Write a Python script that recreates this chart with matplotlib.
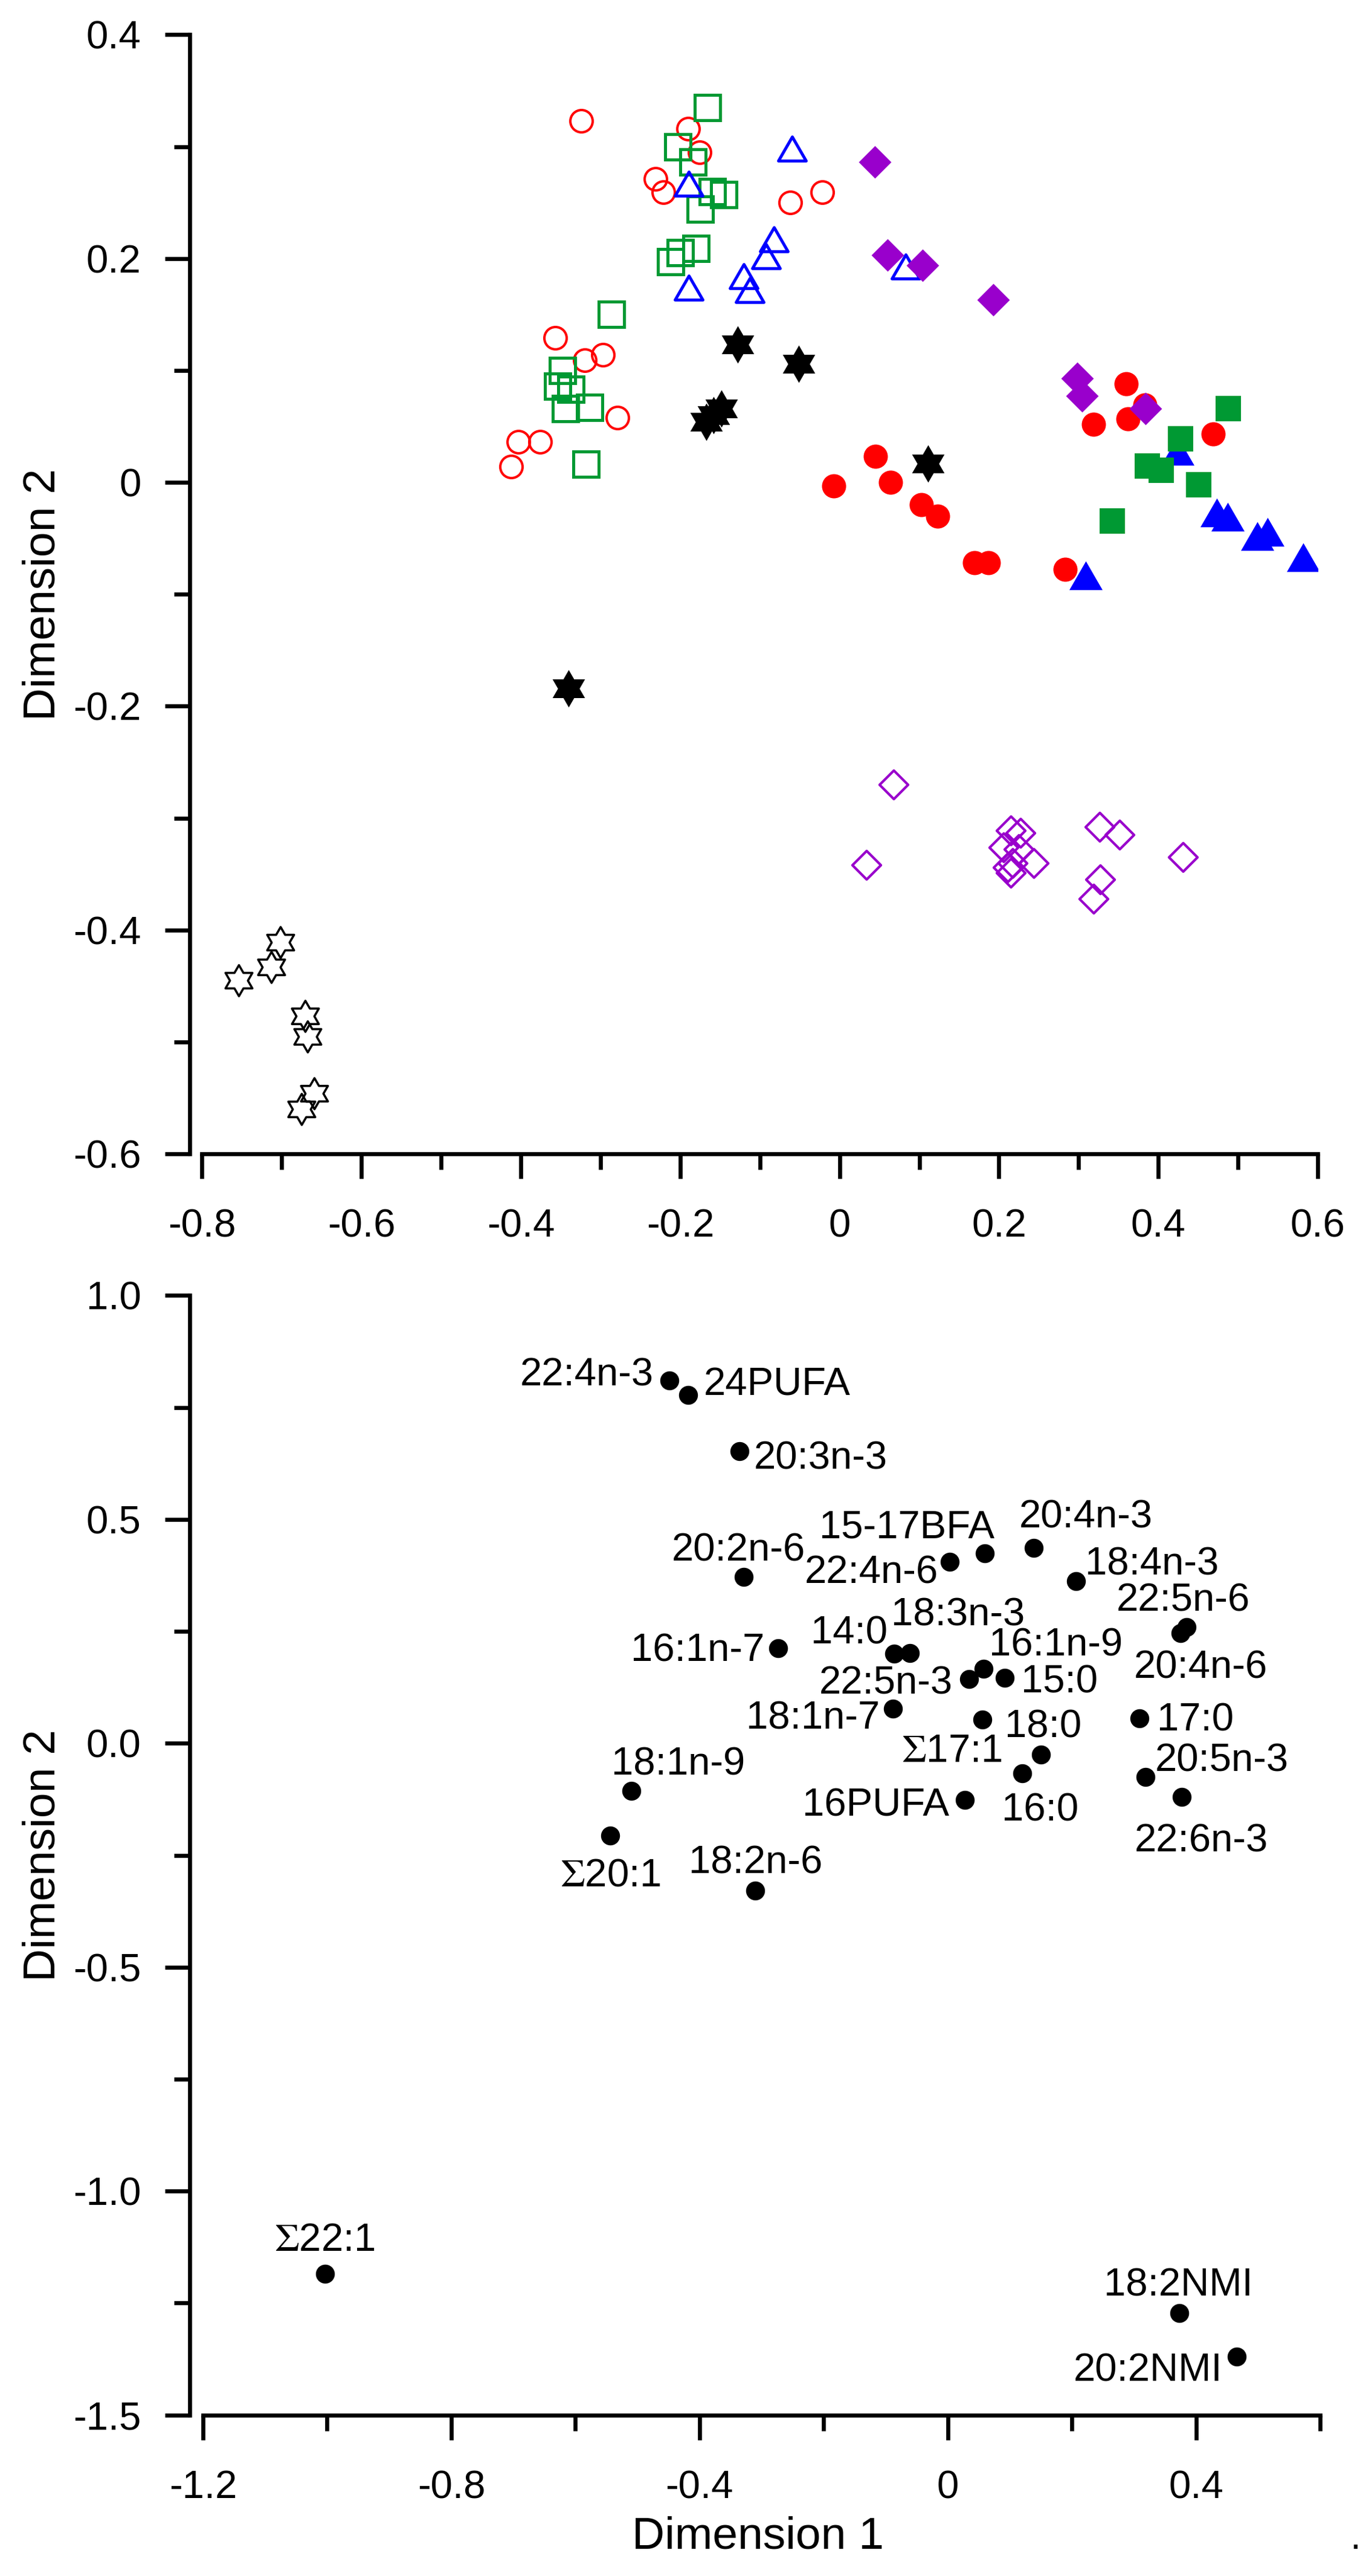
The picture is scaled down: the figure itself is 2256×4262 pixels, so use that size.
import numpy as np
import matplotlib
matplotlib.use('Agg')
import matplotlib.pyplot as plt
from matplotlib.path import Path
from matplotlib.ticker import MultipleLocator, FuncFormatter

plt.rcParams['font.family'] = ['Liberation Sans', 'DejaVu Sans']
plt.rcParams['mathtext.fontset'] = 'stix'

# ---- top panel: sample scores ----
red_open_x = [-0.324, -0.19, -0.176, -0.231, -0.221, -0.062, -0.022, -0.357, -0.320, -0.297, -0.279, -0.403, -0.376, -0.412]
red_open_y = [0.323, 0.316, 0.295, 0.271, 0.259, 0.250, 0.259, 0.129, 0.109, 0.114, 0.058, 0.036, 0.036, 0.014]

green_open_x = [-0.166, -0.203, -0.184, -0.160, -0.145, -0.175, -0.212, -0.200, -0.180, -0.286, -0.348, -0.354, -0.337, -0.344, -0.314, -0.318]
green_open_y = [0.335, 0.300, 0.286, 0.260, 0.257, 0.244, 0.197, 0.205, 0.209, 0.150, 0.100, 0.086, 0.083, 0.066, 0.067, 0.016]

blue_open_x = [-0.060, -0.189, -0.082, -0.092, -0.120, -0.113, -0.189, 0.083]
blue_open_y = [0.298, 0.267, 0.217, 0.202, 0.184, 0.172, 0.174, 0.193]

black_star_x = [-0.128, -0.051, -0.148, -0.158, -0.167, 0.111, -0.340]
black_star_y = [0.123, 0.106, 0.066, 0.060, 0.054, 0.017, -0.184]

blue_fill_x = [0.424, 0.473, 0.487, 0.524, 0.537, 0.582, 0.309]
blue_fill_y = [0.028, -0.027, -0.031, -0.048, -0.044, -0.067, -0.083]

red_fill_x = [0.360, 0.383, 0.319, 0.362, 0.469, 0.045, -0.007, 0.064, 0.103, 0.123, 0.169, 0.187, 0.283]
red_fill_y = [0.088, 0.069, 0.052, 0.057, 0.043, 0.023, -0.003, 0.000, -0.020, -0.030, -0.072, -0.072, -0.078]

green_fill_x = [0.488, 0.428, 0.386, 0.404, 0.451, 0.342]
green_fill_y = [0.066, 0.039, 0.0145, 0.011, -0.002, -0.0345]

purple_fill_x = [0.044, 0.060, 0.104, 0.193, 0.298, 0.304, 0.384]
purple_fill_y = [0.286, 0.203, 0.194, 0.163, 0.093, 0.077, 0.066]

purple_open_x = [0.068, 0.034, 0.215, 0.227, 0.206, 0.225, 0.217, 0.244, 0.211, 0.215, 0.326, 0.351, 0.431, 0.327, 0.319]
purple_open_y = [-0.270, -0.342, -0.311, -0.313, -0.326, -0.328, -0.340, -0.340, -0.344, -0.349, -0.308, -0.315, -0.335, -0.355, -0.372]

open_star_x = [-0.702, -0.713, -0.754, -0.671, -0.668, -0.659, -0.675]
open_star_y = [-0.411, -0.433, -0.445, -0.477, -0.495, -0.546, -0.560]

# ---- bottom panel: fatty acid loadings ----
fa_names = ['22:4n-3', '24PUFA', '20:3n-3', '20:2n-6', '22:4n-6', '15-17BFA', '20:4n-3', '18:4n-3',
            '22:5n-6', '20:4n-6', '16:1n-7', '14:0', '18:3n-3', '16:1n-9', '22:5n-3', '15:0',
            '18:1n-7', '18:0', '17:0', r'$\Sigma$17:1', '16:0', '20:5n-3', '22:6n-3', '16PUFA',
            '18:1n-9', r'$\Sigma$20:1', '18:2n-6', r'$\Sigma$22:1', '18:2NMI', '20:2NMI']
fa_x = [-0.448, -0.418, -0.336, -0.329, 0.003, 0.060, 0.139, 0.207,
        0.385, 0.375, -0.273, -0.086, -0.061, 0.058, 0.034, 0.092,
        -0.088, 0.056, 0.309, 0.150, 0.120, 0.319, 0.377, 0.028,
        -0.510, -0.544, -0.310, -1.003, 0.373, 0.466]
fa_y = [0.810, 0.778, 0.653, 0.371, 0.405, 0.424, 0.437, 0.362,
        0.259, 0.246, 0.213, 0.200, 0.201, 0.167, 0.144, 0.146,
        0.077, 0.053, 0.056, -0.025, -0.067, -0.075, -0.120, -0.127,
        -0.106, -0.206, -0.329, -1.185, -1.272, -1.370]

# label placement: offset in points and horizontal alignment
label_pos = [(-9.7, 3.3, 'right'), (9, 6.1, 'left'), (8.6, -4.7, 'left'), (-3, 15.9, 'center'),
             (-6.8, -6.5, 'right'), (5.7, 15.5, 'right'), (-9, 18, 'left'), (5.4, 10.1, 'left'),
             (-2, 15.9, 'center'), (12, -20.5, 'center'), (-8.3, -1.8, 'right'), (-3.9, 12, 'right'),
             (-11.2, 22.7, 'left'), (3.2, 13.7, 'left'), (-9.6, -2.8, 'right'), (9.8, -2.5, 'left'),
             (-7.8, -6, 'right'), (13.4, -4.3, 'left'), (10.4, -1.4, 'left'), (-23, 1.7, 'right'),
             (10.8, -22, 'center'), (5.7, 9.5, 'left'), (11.6, -26.3, 'center'), (-9.4, -3.3, 'right'),
             (28, 15.5, 'center'), (0, -24.1, 'center'), (0, 16.5, 'center'), (-0.5, 19.8, 'center'),
             (-0.4, 16.2, 'center'), (-8.6, -8.3, 'right')]

# custom marker shapes
hexagram = Path.unit_regular_star(6, 1 / np.sqrt(3))
tri = Path([(0, 0.866), (-1, -0.866), (1, -0.866), (0, 0.866)],
           [Path.MOVETO, Path.LINETO, Path.LINETO, Path.CLOSEPOLY])
diam = Path([(0, 1), (1, 0), (0, -1), (-1, 0), (0, 1)],
            [Path.MOVETO, Path.LINETO, Path.LINETO, Path.LINETO, Path.CLOSEPOLY])

RED = '#FF0000'
GREEN = '#009933'
BLUE = '#0000FF'
PURPLE = '#9900CC'

fig = plt.figure(figsize=(11.28, 21.31), dpi=200)
ax1 = fig.add_axes([0.14827, 0.55209, 0.81849, 0.43444])
ax2 = fig.add_axes([0.14894, 0.06251, 0.81959, 0.43456])

# top panel
ax1.plot(open_star_x, open_star_y, ls='none', marker=hexagram, ms=18.5, mfc='none', mec='black', mew=1.3)
ax1.plot(black_star_x, black_star_y, ls='none', marker=hexagram, ms=22.3, mfc='black', mec='black', mew=0)
ax1.plot(red_open_x, red_open_y, ls='none', marker='o', ms=13.3, mfc='none', mec=RED, mew=1.45)
ax1.plot(green_open_x, green_open_y, ls='none', marker='s', ms=14.8, mfc='none', mec=GREEN, mew=1.8)
ax1.plot(blue_open_x, blue_open_y, ls='none', marker=tri, ms=16.5, mfc='none', mec=BLUE, mew=1.8)
ax1.plot(blue_fill_x, blue_fill_y, ls='none', marker=tri, ms=19.8, mfc=BLUE, mec=BLUE, mew=0)
ax1.plot(red_fill_x, red_fill_y, ls='none', marker='o', ms=14.4, mfc=RED, mec=RED, mew=0)
ax1.plot(green_fill_x, green_fill_y, ls='none', marker='s', ms=15, mfc=GREEN, mec=GREEN, mew=0)
ax1.plot(purple_fill_x, purple_fill_y, ls='none', marker=diam, ms=19.4, mfc=PURPLE, mec=PURPLE, mew=0)
ax1.plot(purple_open_x, purple_open_y, ls='none', marker=diam, ms=17, mfc='none', mec=PURPLE, mew=1.5)

ax1.set_xlim(-0.8, 0.6)
ax1.set_ylim(-0.6, 0.4)
ax1.xaxis.set_major_locator(MultipleLocator(0.2))
ax1.xaxis.set_minor_locator(MultipleLocator(0.1))
ax1.yaxis.set_major_locator(MultipleLocator(0.2))
ax1.yaxis.set_minor_locator(MultipleLocator(0.1))
fmt1 = FuncFormatter(lambda v, p: '0' if abs(v) < 1e-9 else '%.1f' % v)
ax1.xaxis.set_major_formatter(fmt1)
ax1.yaxis.set_major_formatter(fmt1)
ax1.set_ylabel('Dimension 2', fontsize=27)
ax1.yaxis.set_label_coords(-0.1239, 0.5)

# bottom panel
ax2.plot(fa_x, fa_y, ls='none', marker='o', ms=11.3, mfc='black', mec='black', mew=0)
for name, x, y, (dx, dy, ha) in zip(fa_names, fa_x, fa_y, label_pos):
    ax2.annotate(name, (x, y), xytext=(dx, dy), textcoords='offset points',
                 ha=ha, va='center', fontsize=23.5)

ax2.set_xlim(-1.2, 0.6)
ax2.set_ylim(-1.5, 1.0)
ax2.xaxis.set_major_locator(MultipleLocator(0.4))
ax2.xaxis.set_minor_locator(MultipleLocator(0.2))
ax2.yaxis.set_major_locator(MultipleLocator(0.5))
ax2.yaxis.set_minor_locator(MultipleLocator(0.25))
ax2.xaxis.set_major_formatter(fmt1)
ax2.yaxis.set_major_formatter(FuncFormatter(lambda v, p: '%.1f' % v))
ax2.set_xlabel('Dimension 1', fontsize=27)
ax2.xaxis.set_label_coords(0.497, -0.090)
ax2.set_ylabel('Dimension 2', fontsize=27)
ax2.yaxis.set_label_coords(-0.1246, 0.5)

for ax, off in [(ax1, 7.2), (ax2, 7.8)]:
    for s in ['top', 'right']:
        ax.spines[s].set_visible(False)
    for s in ['left', 'bottom']:
        ax.spines[s].set_linewidth(2.4)
    ax.spines['left'].set_position(('outward', off))
    ax.tick_params(which='major', length=14.65, width=2.4, labelsize=23.5)
    ax.tick_params(which='minor', length=9.4, width=2.4)
    ax.tick_params(axis='x', which='major', pad=18)
    ax.tick_params(axis='y', which='major', pad=14.5)
    ax.set_facecolor('none')

fig.text(0.9942, 0.0075, '.', fontsize=23, ha='center', va='bottom')

fig.savefig('out.png', dpi=200, facecolor='white')
